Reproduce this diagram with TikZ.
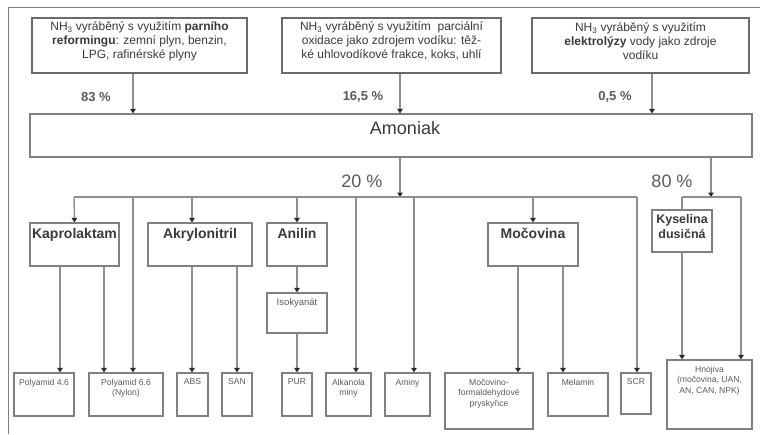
\documentclass[tikz,border=0pt]{standalone}
\usepackage{fontspec}
\setmainfont{Liberation Sans}
\usetikzlibrary{arrows.meta,fit}
\definecolor{ln}{HTML}{8E8E8E}
\definecolor{bd}{HTML}{808080}
\definecolor{tbd}{HTML}{6A6A6A}
\definecolor{tx}{HTML}{3A3A3A}
\definecolor{tx2}{HTML}{5A5A5A}
\definecolor{tip}{HTML}{2A2A2A}
\begin{document}
\begin{tikzpicture}[x=1pt,y=-1pt,
  frame/.style={draw=bd,line width=0.9pt},
  topbox/.style={draw=tbd,line width=1.6pt,fill=white,inner sep=0pt,
     font=\fontsize{12}{14}\selectfont,text=tx,align=center},
  box/.style={draw=bd,line width=1.2pt,fill=white,inner sep=0pt},
  midlbl/.style={font=\fontsize{14}{16}\selectfont\bfseries,text=tx,align=center},
  smlbl/.style={font=\fontsize{8.6}{10.8}\selectfont,text=tx2,align=center},
  pct/.style={font=\fontsize{13}{15}\selectfont\bfseries,text=tx2},
  bigpct/.style={font=\fontsize{18}{20}\selectfont,text=tx2},
  ln/.style={draw=ln,line width=1.4pt},
  arr/.style={ln,-{Triangle[length=4.5pt,width=5.5pt,color=tip]}}
]
\useasboundingbox (0,0) rectangle (760,434);
% outer frame
\coordinate (fa) at (8,434);
\coordinate (fb) at (8,7);
\coordinate (fc) at (760,7);
\draw[frame] (fa) -- (fb) -- (fc);

% top source boxes
\node[topbox,fit={(32,18)(247,73)}] (s1) {NH\textsubscript{3} vyráběný s využitím \textbf{parního}\\\textbf{reformingu}: zemní plyn, benzin,\\LPG, rafinérské plyny};
\node[topbox,fit={(282,18)(501,73)}] (s2) {NH\textsubscript{3} vyráběný s využitím \ parciální\\oxidace jako zdrojem vodíku: těž-\\ké uhlovodíkové frakce, koks, uhlí};
\node[topbox,fit={(532,18)(749,73)}] (s3) {NH\textsubscript{3} vyráběný s využitím\\\textbf{elektrolýzy} vody jako zdroje\\vodíku};

% Amoniak
\node[box,fit={(30,114)(752,157)}] (amo) {};
\node[font=\fontsize{18}{20}\selectfont,text=tx] (amot) at (405,128) {Amoniak};

% percentages
\node[pct] (p83) at (96,97) {83 \%};
\node[pct] (p165) at (363,97) {16,5 \%};
\node[pct] (p05) at (615,97) {0,5 \%};
\node[bigpct] (p20) at (362,181) {20 \%};
\node[bigpct] (p80) at (672,181) {80 \%};

% column coordinates
\foreach \n/\x in {133/133,400/400,652/652,60/60,104/104,192/192,237/237,297/297,356/356,414/414,518/518,563/563,637/637,711/711,74/74,533/533}
  \coordinate (x\n) at (\x,0);

% second level
\node[box,fit={(30,223)(119,266)},label={[midlbl,anchor=north,yshift=-2pt]north:Kaprolaktam}] (kap) {};
\node[box,fit={(148,223)(252,266)},label={[midlbl,anchor=north,yshift=-2pt]north:Akrylonitril}] (akr) {};
\node[box,fit={(267,223)(327,266)},label={[midlbl,anchor=north,yshift=-2pt]north:Anilin}] (ani) {};
\node[box,fit={(488,223)(578,266)},label={[midlbl,anchor=north,yshift=-2pt]north:Močovina}] (moc) {};
\node[box,fit={(267,293)(327,333)},label={[smlbl,font=\fontsize{9.5}{11}\selectfont,anchor=north,yshift=-3pt]north:Isokyanát}] (iso) {};

% bottom boxes
\node[box,fit={(14,373)(74,416)},label={[smlbl,anchor=north,yshift=-3pt]north:Polyamid 4.6}] (p46) {};
\node[box,fit={(89,373)(163,416)},label={[smlbl,anchor=north,yshift=-3pt]north:{Polyamid 6.6\\(Nylon)}}] (p66) {};
\node[box,fit={(177,373)(208,416)},label={[smlbl,anchor=north,yshift=-3pt]north:ABS}] (abs) {};
\node[box,fit={(222,373)(252,416)},label={[smlbl,anchor=north,yshift=-3pt]north:SAN}] (san) {};
\node[box,fit={(282,373)(312,416)},label={[smlbl,anchor=north,yshift=-3pt]north:PUR}] (pur) {};
\node[box,fit={(326,373)(371,416)},label={[smlbl,anchor=north,yshift=-3pt]north:{Alkanola\\miny}}] (alk) {};
\node[box,fit={(385,373)(430,416)},label={[smlbl,anchor=north,yshift=-3pt]north:Aminy}] (ami) {};
\node[box,fit={(445,373)(533,429)},label={[smlbl,anchor=north,yshift=-3pt]north:{Močovino-\\formaldehydové\\pryskyřice}}] (mfp) {};
\node[box,fit={(548,373)(608,416)},label={[smlbl,anchor=north,yshift=-3pt]north:Melamin}] (mel) {};
\node[box,fit={(621,373)(651,414)},label={[smlbl,anchor=north,yshift=-3pt]north:SCR}] (scr) {};
\node[box,fit={(667,360)(752,429)},label={[smlbl,anchor=north,yshift=-3pt]north:{Hnojiva\\(močovina, UAN,\\AN, CAN, NPK)}}] (hno) {};

% top arrows
\draw[arr] (s1.south -| x133) -- (amo.north -| x133);
\draw[arr] (s2.south -| x400) -- (amo.north -| x400);
\draw[arr] (s3.south -| x652) -- (amo.north -| x652);

% 20 % distribution
\coordinate (b20) at (400,197);
\coordinate (bL) at (74,197);
\coordinate (bR) at (637,197);
\draw[arr] (amo.south -| b20) -- (b20);
\draw[ln] (bL) -- (bR);
\draw[arr] (bL) -- (kap.north);
\draw[arr] (bL -| x133) -- (x133 |- p66.north);
\draw[arr] (bL -| x192) -- (x192 |- akr.north);
\draw[arr] (bL -| x297) -- (ani.north);
\draw[arr] (bL -| x356) -- (x356 |- alk.north);
\draw[arr] (bL -| x414) -- (x414 |- ami.north);
\draw[arr] (bL -| x533) -- (moc.north);
\draw[arr] (bR) -- (x637 |- scr.north);

% second level to products
\draw[arr] (kap.south -| x60) -- (x60 |- p46.north);
\draw[arr] (kap.south -| x104) -- (x104 |- p66.north);
\draw[arr] (akr.south -| x192) -- (x192 |- abs.north);
\draw[arr] (akr.south -| x237) -- (x237 |- san.north);
\draw[arr] (ani.south) -- (iso.north);
\draw[arr] (iso.south) -- (iso.south |- pur.north);
\draw[arr] (moc.south -| x518) -- (x518 |- mfp.north);
\draw[arr] (moc.south -| x563) -- (x563 |- mel.north);

% 80 % branch
\coordinate (b80) at (711,197);
\coordinate (kL) at (682,197);
\coordinate (kR) at (741,197);
\draw[arr] (amo.south -| b80) -- (b80);
\draw[ln] (kL) -- (kR);
\draw[ln] (kL) -- (kL |- 0,210);
\draw[arr] (kR) -- (kR |- hno.north);
\node[box,fit={(652,210)(712,252)},midlbl,font=\fontsize{12.5}{15.5}\selectfont\bfseries,align=center] (kys) {Kyselina\\dusičná};
\draw[arr] (kys.south -| kL) -- (kL |- hno.north);
\end{tikzpicture}
\end{document}
